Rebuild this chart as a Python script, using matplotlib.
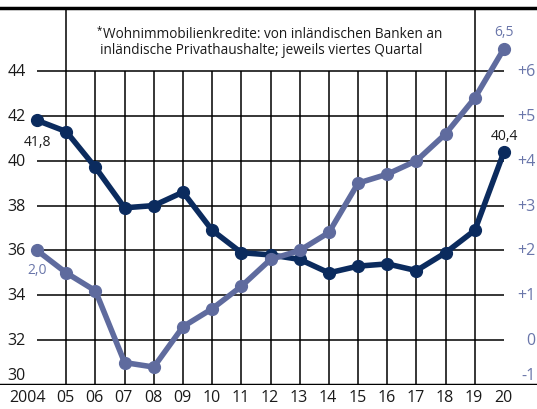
import matplotlib.pyplot as plt
import matplotlib.transforms as mtransforms

plt.rcParams['font.family'] = ['Open Sans', 'DejaVu Sans']

# Daten
years = list(range(2004, 2021))
year_labels = ['2004', '05', '06', '07', '08', '09', '10', '11', '12',
               '13', '14', '15', '16', '17', '18', '19', '20']
# linke Achse (dunkelblau)
navy_vals = [41.8, 41.3, 39.7, 37.9, 38.0, 38.6, 36.9, 35.9, 35.8,
             35.6, 35.0, 35.3, 35.4, 35.1, 35.9, 36.9, 40.4]
# rechte Achse (hellblau/violett)
purple_vals = [2.0, 1.5, 1.1, -0.5, -0.6, 0.3, 0.7, 1.2, 1.8,
               2.0, 2.4, 3.5, 3.7, 4.0, 4.6, 5.4, 6.5]
left_ticks = [30, 32, 34, 36, 38, 40, 42, 44]
right_ticks = [-1, 0, 1, 2, 3, 4, 5, 6]
right_tick_labels = ['-1', '0', '+1', '+2', '+3', '+4', '+5', '+6']

navy = '#0b2b5e'
purple = '#5f6b9e'
purple_txt = '#6a76aa'

fig = plt.figure(figsize=(5.37, 4.10), dpi=100)
ax = fig.add_axes([0, 24 / 410, 1, 1 - 33 / 410])
ax.set_xlim(2002.73, 2021.13)
ax.set_ylim(30, 46.81)
for s in ax.spines.values():
    s.set_visible(False)
ax.set_xticks([])
ax.set_yticks([])

# Gitter
ax.hlines(left_ticks[1:], 2004, 2020, color='black', lw=1.1, zorder=1)
for y in years[1:-1]:
    top = 46.81 if y in (2005, 2019) else 44
    ax.vlines(y, 30, top, color='black', lw=1.1, zorder=1)
ax.axhline(30, color='black', lw=2.5, zorder=3)
ax.axhline(46.81, color='black', lw=2.5, zorder=3, clip_on=False)

ax.plot(years, navy_vals, color=navy, lw=4, marker='o', ms=8.5,
        solid_joinstyle='round', zorder=4)

ax2 = ax.twinx()
ax2.set_ylim((30 - 32) / 2, (46.81 - 32) / 2)
for s in ax2.spines.values():
    s.set_visible(False)
ax2.set_yticks([])
ax2.plot(years, purple_vals, color=purple, lw=4, marker='o', ms=8.5,
         solid_joinstyle='round', zorder=4)

# Achsenbeschriftung
tl = mtransforms.blended_transform_factory(ax.transAxes, ax.transData)
for v in left_ticks:
    off = 0.45 if v == 30 else 0
    ax.text(0.048, v + off, str(v), transform=tl, ha='right', va='center',
            fontsize=11.5, color='#1a1a1a')
tr = mtransforms.blended_transform_factory(ax2.transAxes, ax2.transData)
for v, lab in zip(right_ticks, right_tick_labels):
    off = 0.22 if v == -1 else 0
    ax2.text(0.997, v + off, lab, transform=tr, ha='right', va='center',
             fontsize=11.5, color=purple_txt)
tx = mtransforms.blended_transform_factory(ax.transData, ax.transAxes)
for y, lab in zip(years, year_labels):
    if y == 2004:
        ax.text(y + 0.3, -0.033, lab, transform=tx, ha='right', va='center',
                fontsize=11.5, color='#1a1a1a')
    else:
        ax.text(y - 0.03, -0.033, lab, transform=tx, ha='center',
                va='center', fontsize=11.5, color='#1a1a1a')

# Werte-Beschriftungen
ax.annotate('41,8', (years[0], navy_vals[0]), xytext=(0, -15),
            textcoords='offset points', ha='center', va='center',
            fontsize=10, color='#1a1a1a')
ax.annotate('40,4', (years[-1], navy_vals[-1]), xytext=(0, 12),
            textcoords='offset points', ha='center', va='center',
            fontsize=10, color='#1a1a1a')
ax2.annotate('2,0', (years[0], purple_vals[0]), xytext=(0, -14),
             textcoords='offset points', ha='center', va='center',
             fontsize=10, color=purple_txt)
ax2.annotate('6,5', (years[-1], purple_vals[-1]), xytext=(0, 12),
             textcoords='offset points', ha='center', va='center',
             fontsize=10, color=purple_txt)

# Fussnote
fig.text(97 / 537, 1 - 31 / 410, '*', fontsize=7, va='center', ha='left')
fig.text(103 / 537, 1 - 34 / 410,
         'Wohnimmobilienkredite: von inländischen Banken an',
         fontsize=9.8, va='center', ha='left', color='#1a1a1a')
fig.text(100 / 537, 1 - 51 / 410,
         'inländische Privathaushalte; jeweils viertes Quartal',
         fontsize=9.8, va='center', ha='left', color='#1a1a1a')

fig.savefig('out.png', dpi=100)
